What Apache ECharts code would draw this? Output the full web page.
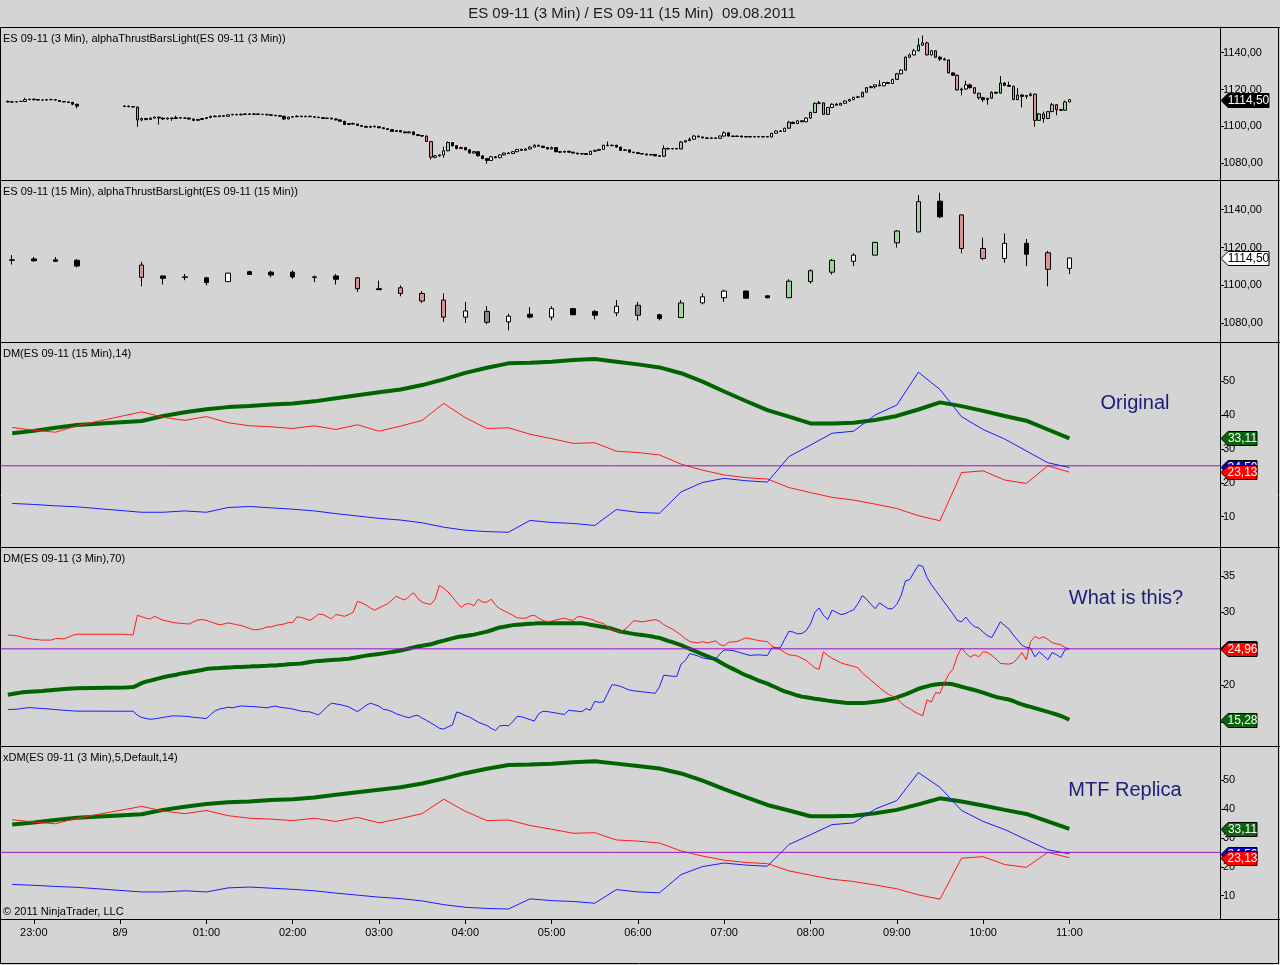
<!DOCTYPE html>
<html><head><meta charset="utf-8">
<script src="https://cdn.jsdelivr.net/npm/echarts@6/dist/echarts.min.js"></script>
<style>html,body{margin:0;padding:0;background:#d4d4d4}#c{width:1280px;height:965px}</style>
</head><body><div id="c"></div><script>
// ---------------- DATA ----------------
const chartTitle = 'ES 09-11 (3 Min) / ES 09-11 (15 Min)  09.08.2011';
const panelLabels = [
  'ES 09-11 (3 Min), alphaThrustBarsLight(ES 09-11 (3 Min))',
  'ES 09-11 (15 Min), alphaThrustBarsLight(ES 09-11 (15 Min))',
  'DM(ES 09-11 (15 Min),14)',
  'DM(ES 09-11 (3 Min),70)',
  'xDM(ES 09-11 (3 Min),5,Default,14)'
];
const panelNotes = ['Original', 'What is this?', 'MTF Replica'];
const copyrightText = '© 2011 NinjaTrader, LLC';
const timeTickTimes  = ['23:00','00:00','01:00','02:00','03:00','04:00','05:00','06:00','07:00','08:00','09:00','10:00','11:00'];
const timeTickLabels = ['23:00','8/9','01:00','02:00','03:00','04:00','05:00','06:00','07:00','08:00','09:00','10:00','11:00'];
const priceTicks = [1080, 1100, 1120, 1140];
const dmTicks = [10, 20, 30, 40, 50];
const dm70Ticks = [15, 20, 25, 30, 35];
const dm70TickLabels = [20, 30, 35];
const dmLevel = 25;

// bar sessions: [first bar time, number of bars]
const bars3Sessions = [['22:42', 17], ['00:03', 220]];
const bars15Sessions = [['22:45', 4], ['00:15', 44]];

// 3-minute bars [open, close, low, high]
const es3Ohlc = [
[1113.5,1113.25,1113,1114],[1113.25,1113.25,1112.75,1113.75],[1113.25,1113.5,1113,1113.75],[1113.5,1113.5,1113.25,1114],[1113.5,1114.5,1113.25,1115.5],
[1114.5,1114.75,1114.25,1115],[1114.75,1114.5,1114,1115],[1114.5,1114.25,1114,1114.75],[1114.25,1114.25,1114,1114.75],[1114.25,1114.5,1114,1114.75],
[1114.5,1114.5,1114.25,1115],[1114.5,1114.25,1114,1114.75],[1114,1113.5,1113.25,1114],[1113.5,1113.25,1113,1113.75],[1113.25,1113,1112.75,1113.5],
[1113,1112,1111.5,1113.25],[1112,1111,1109.75,1112.25],
[1110.75,1111,1110.5,1111.5],[1111,1110.75,1110.25,1111.25],[1110.75,1110.5,1110.25,1111],[1110.5,1103.5,1099.75,1110.75],[1103.5,1104.25,1102.75,1104.75],
[1104.25,1103.75,1103.25,1104.5],[1103.75,1104.5,1103.5,1104.75],[1104.5,1105,1104.25,1105.25],[1105,1104.5,1101,1105.25],[1104.5,1104,1103.5,1104.75],
[1104,1104.5,1103.75,1104.75],[1104.5,1104.25,1103,1104.75],[1104.25,1104.75,1104,1105.75],[1104.75,1104.5,1104.25,1105],[1104.5,1104.5,1104.25,1104.75],
[1104.5,1104,1103.5,1104.75],[1104,1103.25,1102.75,1104.25],[1103.25,1103.75,1103,1104],[1103.75,1104.25,1103.5,1104.5],[1104.25,1104.75,1104,1105],
[1104.75,1105.5,1104.5,1105.75],[1105.5,1105.25,1105,1106],[1105.25,1105.75,1105,1106],[1105.75,1105.5,1105.25,1106],[1105.5,1106.25,1105.25,1106.5],
[1106.25,1106.5,1106,1106.75],[1106.5,1106.25,1106,1106.75],[1106.25,1106.5,1106,1107],[1106.5,1106.75,1106.25,1107],[1106.75,1106.5,1106.25,1107],
[1106.5,1106.75,1106.25,1107.25],[1106.75,1106.5,1106.25,1107],[1106.5,1106.5,1106.25,1106.75],[1106.5,1106.25,1106,1106.75],[1106.25,1106,1105.75,1106.5],
[1106,1105.75,1105.5,1106.25],[1105.75,1105.5,1105.25,1106],[1105.5,1104,1103.5,1105.75],[1104,1105,1103.75,1105.25],[1105,1105.25,1104.75,1105.5],
[1105.25,1105.5,1105,1106],[1105.5,1105.25,1105,1105.75],[1105.25,1105.5,1105,1105.75],[1105.5,1105.25,1105,1105.75],[1105.25,1105,1104.75,1105.5],
[1105,1104.75,1104.5,1105.25],[1104.75,1104.25,1104,1105],[1104.25,1104.5,1104,1104.75],[1104.5,1104,1103.75,1104.75],[1104,1103.5,1103.25,1104.25],
[1103.5,1102.75,1102.5,1103.75],[1102.75,1101,1100.75,1103],[1101,1101.5,1100.75,1101.75],[1101.5,1101.25,1101,1102],[1101.25,1100.5,1100.25,1101.5],
[1100.5,1100,1099.75,1100.75],[1100,1099.5,1099.25,1100.25],[1099.5,1100,1099.25,1100.25],[1100,1099.75,1099.5,1100.5],[1099.75,1099.25,1099,1100],
[1099.25,1098.75,1098.5,1099.5],[1098.75,1098.25,1098,1099],[1098.25,1097.25,1097,1098.5],[1097.25,1097.75,1097,1098],[1097.75,1097,1096.75,1098],
[1097,1096.5,1096.25,1097.25],[1096.5,1097,1096.25,1097.25],[1097,1095.5,1095.25,1097.25],[1095.5,1095,1094.75,1095.75],[1095,1094.75,1094.25,1095.25],
[1094.75,1091.75,1091.5,1095],[1091.75,1083.25,1082,1092],[1083.25,1084,1082.75,1084.5],[1084,1084.5,1083.5,1084.75],[1084.5,1086.75,1083,1089],
[1086.75,1091.25,1086.5,1091.75],[1091.25,1089.5,1089,1091.5],[1089.5,1088,1087.5,1089.75],[1088,1088.5,1087.75,1089],[1088.5,1087.25,1087,1088.75],
[1087.25,1085.5,1085.25,1087.5],[1085.5,1086.25,1085.25,1086.5],[1086.25,1084,1083.75,1086.5],[1084,1082.5,1082.25,1084.25],[1082.5,1081.5,1079.75,1082.75],
[1081.5,1083.5,1081.25,1084],[1083.5,1083,1082.75,1083.75],[1083,1084.5,1082.75,1084.75],[1084.5,1085.5,1084.25,1085.75],[1085.5,1085.25,1085,1086],
[1085.25,1086.25,1085,1086.5],[1086.25,1087.5,1086,1087.75],[1087.5,1087,1086.75,1088],[1087,1087.75,1086.75,1088.25],[1087.75,1088.75,1087.5,1089.25],
[1088.75,1089.75,1088.5,1090.25],[1089.75,1089.25,1089,1090],[1089.25,1088.5,1088.25,1089.5],[1088.5,1087.75,1087.5,1088.75],[1087.75,1088.5,1087.5,1089],
[1088.5,1086.25,1086,1088.75],[1086.25,1086,1085.5,1086.5],[1086,1086.5,1085.75,1086.75],[1086.5,1086,1085.75,1086.75],[1086,1085.5,1085.25,1086.25],
[1085.5,1085,1084.75,1085.75],[1085,1085.25,1084.75,1085.5],[1085.25,1084.75,1084.5,1085.5],[1084.75,1086.5,1084.5,1086.75],[1086.5,1087,1086.25,1087.25],
[1087,1087.5,1086.75,1087.75],[1087.5,1089.75,1087.25,1090],[1089.75,1089.5,1089.25,1091.75],[1089.5,1089.75,1089.25,1090.25],[1089.75,1088.75,1088.5,1090],
[1088.75,1087,1086.75,1089],[1087,1087.25,1086.75,1087.5],[1087.25,1086,1085.75,1087.5],[1086,1085.75,1085.5,1086.25],[1085.75,1085.25,1085,1086],
[1085.25,1085,1084.75,1085.5],[1085,1084.5,1084.25,1085.25],[1084.5,1084.75,1084.25,1085],[1084.75,1084,1083.75,1085],[1084,1083.75,1083.5,1084.25],
[1083.75,1088,1083.5,1089.75],[1088,1087.75,1087.5,1088.5],[1087.75,1088,1087.5,1088.25],[1088,1087.75,1087.5,1088.25],[1087.75,1091.5,1087.5,1092],
[1091.5,1092.25,1091.25,1092.5],[1092.25,1093,1092,1094],[1093,1094.75,1092.75,1095.25],[1094.75,1094.25,1094,1095],[1094.25,1093.75,1093.5,1094.5],
[1093.75,1093.5,1093.25,1094],[1093.5,1093.75,1093.25,1094],[1093.75,1093.5,1093.25,1094],[1093.5,1094.75,1093.25,1095],[1094.75,1096.5,1094.5,1097.25],
[1096.5,1094.75,1094.5,1096.75],[1094.75,1094.5,1094.25,1095],[1094.5,1094.75,1094.25,1095],[1094.75,1094.25,1094,1095],[1094.25,1094.5,1094,1094.75],
[1094.5,1094.25,1094,1094.75],[1094.25,1094.5,1094,1094.75],[1094.5,1094.25,1094,1094.75],[1094.25,1094.5,1094,1094.75],[1094.5,1094.25,1094,1094.75],
[1094.25,1096.25,1094,1096.5],[1096.25,1097.5,1096,1097.75],[1097.5,1097.25,1097,1098],[1097.25,1099,1097,1099.25],[1099,1102.25,1098.75,1103],
[1102.25,1101.5,1101.25,1102.5],[1101.5,1103,1101.25,1103.25],[1103,1102.5,1102.25,1103.25],[1102.5,1104.5,1102.25,1105],[1104.5,1107.5,1104.25,1108],
[1107.5,1112.5,1107.25,1113],[1112.5,1112.75,1112,1113.75],[1112.75,1106.5,1106.25,1113],[1106.5,1110.25,1106.25,1110.5],[1110.25,1112,1110,1112.5],
[1112,1111.5,1111.25,1112.75],[1111.5,1112.5,1111.25,1112.75],[1112.5,1113.75,1112.25,1114],[1113.75,1114.5,1113.5,1115],[1114.5,1115.75,1114.25,1116],
[1115.75,1116,1115.5,1116.5],[1116,1118.5,1115.75,1118.75],[1118.5,1121,1118.25,1121.25],[1121,1121.5,1120.75,1122],[1121.5,1122.5,1120.5,1122.75],
[1122.5,1122,1121.75,1125],[1122,1123.75,1121.75,1124],[1123.75,1123.25,1123,1124.25],[1123.25,1125.5,1123,1125.75],[1125.5,1128.5,1125.25,1129],
[1128.5,1130.5,1128.25,1131],[1130.5,1137.5,1130.25,1138],[1137.5,1138.75,1137,1139.5],[1138.75,1141,1138.5,1142],[1141,1144,1140.75,1147.75],
[1144,1145.25,1143.75,1149.25],[1145.25,1138.75,1138.5,1146],[1138.75,1141,1138.5,1141.5],[1141,1137.5,1137,1141.25],[1137.5,1136.5,1135.5,1138],
[1136.5,1136,1135.75,1137.25],[1136,1129,1128.75,1136.25],[1129,1127.75,1127.5,1129.25],[1127.75,1119.75,1119.5,1128],[1119.75,1120.25,1116.75,1121],
[1120.25,1122.5,1119.75,1124.75],[1122.5,1121,1120.5,1123.25],[1121,1118,1117.75,1121.25],[1118,1115.5,1114.5,1118.25],[1115.5,1114.5,1113.25,1116],
[1114.5,1115.25,1111.75,1115.5],[1115.25,1118.5,1115,1119],[1118.5,1118,1117.5,1118.75],[1118,1123.5,1117.75,1127.25],[1123.5,1122.25,1121.75,1124],
[1122.25,1121.75,1121.5,1124.25],[1121.75,1114.5,1114.25,1122],[1114.5,1117,1114.25,1120.75],[1117,1116.25,1110.25,1117.5],[1116.25,1116.75,1115,1117],
[1116.75,1117.5,1116.25,1118.25],[1117.5,1103.25,1099.75,1117.75],[1103.25,1106.75,1103,1107.25],[1106.75,1104.25,1102,1108],[1104.25,1108,1104,1108.25],
[1108,1111.75,1107.75,1112.75],[1111.75,1109,1106,1112],[1109,1108.75,1108.5,1109.5],[1108.75,1113.25,1108.5,1114],[1113.25,1114.5,1113,1114.75]
];

// 15-minute bars [open, close, low, high]
const es15Ohlc = [
[1113.5,1113.25,1111,1116],[1114,1113,1112.5,1115],[1113.5,1112.75,1112.5,1115],[1113.25,1110.25,1109.5,1114],
[1110.75,1104.25,1099.5,1112.5],[1105,1103.75,1100.5,1105.25],[1104.25,1104.5,1102.75,1106],[1104,1101.5,1100,1104.5],
[1102,1106.5,1102,1106.75],[1107.25,1105.75,1105.5,1107.75],[1107,1105.5,1104.25,1107.75],[1107,1104.5,1103.5,1108],
[1104.5,1104.25,1101.75,1105.25],[1105,1103.25,1100.5,1106],[1104,1098.25,1096.5,1104.5],[1098.25,1097.75,1097.5,1102.5],
[1098.75,1095.75,1094.25,1100],[1095.75,1091.75,1090.75,1097],[1092.25,1083.25,1080.75,1095.75],[1083.25,1086.5,1080.25,1091.25],
[1086.25,1080.5,1079.5,1089],[1080.75,1083.75,1076.25,1085],[1084.75,1083.25,1082.5,1088.5],[1083.25,1087.75,1081.5,1089],
[1087.75,1084.5,1084.25,1088],[1086.25,1084.25,1082,1087],[1085.5,1089,1083.75,1092.25],[1089.5,1084.25,1081.5,1091.25],
[1084.5,1082.5,1081.5,1085],[1083,1090.75,1082.75,1092.25],[1090.75,1094,1090,1095.75],[1093.5,1097,1091.25,1097.75],
[1097,1093.25,1093,1097.25],[1094.5,1093.5,1093.25,1094.75],[1093.5,1102.25,1093.5,1103.25],[1102,1107.75,1101,1108.5],
[1107,1113.25,1105.75,1114],[1112.75,1116,1110.25,1117],[1116,1122.75,1116,1123],[1122.5,1128.75,1120,1129.25],
[1128.25,1144.25,1128,1147.75],[1144.5,1136.25,1135.5,1149],[1137.25,1119.5,1117,1137.5],[1119.5,1114.25,1113.25,1125.25],
[1114.25,1122.25,1112,1127.5],[1122.25,1116.5,1110.25,1124.5],[1117.25,1108.5,1099.5,1118.25],[1109,1114.5,1106,1114.75]
];
// alphaThrust state of each 15-minute bar: W up, K down, G up-thrust, P down-thrust, A neutral
const thrust15 = ['K','K','K','K','P','K','K','K','W','K','K','K','K','K','P','K','P','P','P','W','A','W','K','W','K','K','W','A','K','G','W','W','K','K','G','G','G','W','G','G','G','K','P','P','W','K','P','W'];

// DM(15 Min,14) – also shown by the xDM replica
const dm15Adx = [34.6,35.3,36.2,37.0,38.2,39.7,40.8,41.7,42.3,42.6,43.1,43.4,44.0,44.9,45.8,46.7,47.5,48.8,50.5,52.4,53.9,55.2,55.4,55.7,56.2,56.5,55.7,54.9,54.0,52.3,49.8,46.9,44.1,41.4,39.5,37.5,37.5,37.7,38.5,39.7,41.6,43.7,42.6,41.2,39.7,38.3,35.7,33.11];
const dm15DiPlus = [13.9,13.6,13.2,12.9,11.3,11.3,11.7,11.3,12.7,13.0,12.6,12.2,11.7,10.9,10.2,9.5,9.0,8.2,6.9,6.0,5.6,5.4,8.9,8.3,8.0,7.4,12.1,11.3,11.0,17.3,20.1,21.3,20.6,20.2,27.7,31.1,34.6,35.2,40.0,42.9,52.6,47.5,39.5,35.7,32.9,29.4,25.9,24.5];
const dm15DiMinus = [36.3,35.5,34.9,36.8,40.9,39.3,38.4,39.5,37.7,36.8,36.5,36.0,36.8,35.7,37.1,35.2,36.7,38.4,43.4,39.2,36.0,36.2,34.3,33.0,31.6,31.8,29.3,28.9,28.2,25.5,23.7,22.3,21.5,21.1,18.6,17.1,15.7,14.9,13.7,12.4,10.3,8.8,23.0,23.5,20.8,19.8,25.0,23.13];

// DM(3 Min,70)
const dm70Adx = [
18.7,18.8,18.9,19.0,19.08,19.12,19.16,19.2,19.23,19.28,19.33,19.38,19.43,19.48,19.53,19.57,19.6,
19.7,19.72,19.76,20.0,20.3,20.5,20.65,20.8,20.95,21.1,21.25,21.35,21.45,21.6,21.7,21.8,21.9,22.0,22.1,22.25,
22.3,22.35,22.38,22.42,22.45,22.47,22.5,22.52,22.55,22.57,22.6,22.62,22.65,22.67,22.7,22.72,22.77,22.82,22.88,22.93,
22.95,23.0,23.1,23.2,23.28,23.33,23.38,23.43,23.48,23.52,23.55,23.6,23.63,23.75,23.85,23.97,24.07,24.15,24.22,24.3,
24.38,24.48,24.57,24.67,24.77,24.9,25.05,25.2,25.32,25.42,25.52,25.62,25.8,25.98,26.12,26.28,26.43,26.58,26.68,26.77,
26.86,26.95,27.08,27.22,27.36,27.55,27.75,27.93,28.03,28.14,28.25,28.3,28.35,28.4,28.43,28.46,28.5,28.5,28.5,28.5,
28.5,28.5,28.5,28.5,28.5,28.5,28.5,28.42,28.3,28.2,28.1,28.0,27.9,27.75,27.55,27.36,27.27,27.15,27.05,26.97,
26.9,26.81,26.72,26.6,26.5,26.3,26.1,25.92,25.7,25.5,25.25,25.0,24.75,24.5,24.25,24.0,23.75,23.55,23.2,22.85,
22.55,22.25,21.95,21.65,21.38,21.15,20.9,20.65,20.45,20.23,19.95,19.7,19.42,19.18,19.0,18.8,18.6,18.45,18.35,18.25,
18.15,18.08,18.0,17.9,17.82,17.75,17.68,17.6,17.58,17.57,17.57,17.58,17.62,17.68,17.75,17.82,17.92,18.05,18.18,18.35,
18.55,18.75,19.0,19.25,19.5,19.7,19.85,20.0,20.1,20.18,20.22,20.2,20.13,19.98,19.8,19.65,19.5,19.35,19.18,19.0,
18.8,18.6,18.4,18.28,18.15,18.05,17.85,17.6,17.38,17.2,17.05,16.88,16.7,16.52,16.35,16.18,16.0,15.8,15.55,15.28
];
const dm70DiPlus = [
16.68,16.7,16.72,16.8,16.88,16.95,16.9,16.85,16.81,16.78,16.72,16.68,16.62,16.58,16.54,16.5,16.46,
16.45,16.45,16.45,15.9,15.6,15.45,15.35,15.4,15.5,15.6,15.7,15.8,15.8,15.78,15.76,15.7,15.62,15.56,15.5,15.45,
16.0,16.5,16.75,16.85,17.0,16.92,17.05,17.17,17.14,17.1,17.08,17.03,16.97,16.92,17.05,17.15,17.0,16.92,16.85,16.75,
16.6,16.45,16.4,16.35,16.15,15.95,16.5,17.1,17.55,17.45,17.35,17.2,17.05,16.7,16.4,16.8,17.25,17.55,17.35,17.15,
16.7,16.62,16.4,16.1,15.9,15.7,15.55,15.8,15.9,15.5,15.2,14.85,14.5,14.1,14.0,14.3,14.55,16.35,16.15,15.85,
15.65,15.3,14.95,14.7,14.5,14.1,13.8,14.45,14.5,14.45,15.0,15.75,15.7,15.5,15.3,15.1,16.1,16.45,16.4,16.3,
16.2,16.1,16.0,16.6,16.5,16.45,16.38,16.8,16.6,17.8,17.67,17.72,18.9,20.1,20.0,19.86,19.6,19.35,19.25,19.18,
19.1,19.04,18.98,18.9,19.8,21.4,21.3,21.25,21.22,22.9,23.4,24.35,24.2,24.0,23.75,23.65,23.55,23.6,24.3,24.85,
24.8,24.77,24.6,24.42,24.25,24.1,24.15,24.18,24.13,24.09,25.1,25.14,25.14,26.3,27.4,27.3,27.05,27.1,27.5,28.4,
30.0,30.6,29.6,29.0,30.3,30.0,29.7,29.8,30.1,30.35,31.2,32.3,31.8,31.1,30.5,31.3,30.9,30.5,30.5,31.1,
32.3,34.3,34.5,35.5,36.5,36.3,34.8,33.8,33.0,32.2,31.4,30.6,29.8,28.9,28.7,29.35,28.6,28.05,27.85,27.3,
26.8,26.55,27.6,28.7,28.2,27.7,26.9,26.2,25.5,25.2,25.1,23.9,24.6,24.1,23.5,24.5,24.2,23.8,24.9,25.05
];
const dm70DiMinus = [
26.9,26.85,26.8,26.65,26.5,26.4,26.3,26.25,26.2,26.2,26.2,26.4,26.4,26.35,26.6,26.85,27.0,
27.0,26.95,26.9,29.6,29.4,29.2,29.1,29.45,29.2,28.9,28.8,28.65,28.55,28.5,28.45,28.4,28.7,28.95,29.0,28.9,
28.7,28.5,28.3,28.4,28.55,28.45,28.3,28.2,28.0,27.8,27.6,27.65,27.75,28.0,28.0,28.2,28.3,28.4,28.6,28.6,
29.4,29.3,29.1,28.9,29.3,29.75,29.7,29.4,29.1,29.7,29.6,29.45,29.7,30.0,31.5,31.3,31.0,30.6,30.3,30.6,
30.9,31.2,31.7,32.2,31.9,31.7,32.2,32.7,31.9,31.4,31.2,31.1,31.8,33.7,33.3,32.8,32.1,31.4,30.7,31.1,
31.2,30.9,31.8,31.4,31.4,31.8,31.0,30.5,30.2,29.9,29.6,29.25,29.2,29.2,29.5,29.6,29.2,28.9,28.7,28.8,
28.95,29.1,29.2,29.0,28.9,29.4,29.4,29.2,29.1,28.85,28.6,28.5,28.0,27.6,27.45,27.3,27.7,28.2,28.85,28.8,
28.7,28.8,28.9,29.0,28.8,28.3,28.0,27.7,27.3,26.9,26.4,26.0,25.9,25.8,26.0,25.8,25.95,26.1,25.6,25.4,
25.9,25.95,26.0,26.25,26.5,26.4,26.25,26.15,26.05,26.0,25.4,25.1,24.9,24.5,24.2,24.1,24.0,23.7,23.4,22.9,
22.4,22.2,24.6,24.1,23.7,23.4,23.1,22.9,22.75,22.6,22.4,21.7,21.2,20.7,20.2,19.7,19.2,18.8,18.5,18.2,
17.6,17.1,16.8,16.4,16.1,15.8,18.0,17.7,19.0,18.9,20.3,21.5,22.2,24.0,25.1,24.4,23.85,24.2,23.9,24.6,
24.5,24.1,23.6,23.0,22.95,22.9,23.1,23.7,24.5,23.5,26.0,26.7,26.4,26.65,26.3,25.85,25.7,25.55,25.2,24.96
];

// ---------------- HELPERS ----------------
function toMin(t) { const p = t.split(':').map(Number); return (p[0] >= 22 ? (p[0] - 22) * 60 : (p[0] + 2) * 60) + p[1]; }
function buildTimes(sessions, step) {
  const out = [];
  sessions.forEach(([start, n]) => { const s = toMin(start); for (let i = 0; i < n; i++) out.push(s + i * step); });
  return out;
}
const times3 = buildTimes(bars3Sessions, 3);
const times15 = buildTimes(bars15Sessions, 15);
const tickMins = timeTickTimes.map(toMin);
const fmtComma = (v, d) => v.toFixed(d).replace('.', ',');

const FILL = { W: '#ffffff', K: '#000000', G: '#9fd49f', P: '#d99494', A: '#8a8a8a' };
function candleItem(x, d, state) {
  const f = FILL[state];
  return { value: [x, d[0], d[1], d[2], d[3]], itemStyle: { color: f, color0: f, borderColor: '#000', borderColor0: '#000', borderColorDoji: '#000', borderWidth: 1 } };
}
function state3(d) { const b = d[1] - d[0]; return b >= 2.5 ? 'G' : b <= -2.5 ? 'P' : b > 0 ? 'W' : 'K'; }
const pair = (xs, vs) => vs.map((v, i) => [xs[i], v]);

// ---------------- LAYOUT ----------------
const FONT = '"Liberation Sans", Arial, sans-serif';
const grids = [
  { top: 27, height: 153 }, { top: 180, height: 162 }, { top: 342, height: 205 }, { top: 547, height: 199 }, { top: 746, height: 173 }
];
const yRanges = [[1070.9, 1153.9], [1070.1, 1155.7], [1.06, 61.5], [11.68, 38.96], [1.94, 61.8]];
const xMin = 37.2, xMax = 884.7;
const plotRight = 1220;

const option = {
  backgroundColor: '#d4d4d4',
  animation: false,
  grid: grids.map(g => ({ left: 1, width: plotRight - 1, top: g.top, height: g.height })),
  xAxis: grids.map((g, i) => ({
    gridIndex: i, type: 'value', min: xMin, max: xMax, show: i === 4,
    axisLine: { show: true, onZero: false, lineStyle: { color: '#000', width: 1 } },
    axisTick: { show: true, customValues: tickMins, length: 5, lineStyle: { color: '#000' } },
    axisLabel: { customValues: tickMins, formatter: v => timeTickLabels[tickMins.indexOf(v)] || '', color: '#000', fontSize: 11, fontFamily: FONT, margin: 8 },
    splitLine: { show: false }
  })),
  yAxis: yRanges.map((r, i) => {
    const isPrice = i < 2;
    const ticks = isPrice ? priceTicks : (i === 3 ? dm70Ticks : dmTicks);
    const labels = isPrice ? priceTicks : (i === 3 ? dm70TickLabels : dmTicks);
    return {
      gridIndex: i, type: 'value', position: 'right', min: r[0], max: r[1],
      axisLine: { show: true, onZero: false, lineStyle: { color: '#000', width: 1 } },
      axisTick: { show: true, customValues: ticks, length: 4, lineStyle: { color: '#000' } },
      axisLabel: { customValues: labels, formatter: v => isPrice ? fmtComma(v, 2) : String(v), color: '#000', fontSize: 11, fontFamily: FONT, margin: 3 },
      splitLine: { show: false }
    };
  }),
  series: []
};

// panel 1: 3-minute candles
option.series.push({
  type: 'candlestick', xAxisIndex: 0, yAxisIndex: 0, barWidth: 3, encode: { x: 0, y: [1, 2, 3, 4] },
  data: es3Ohlc.map((d, i) => candleItem(times3[i], d, state3(d)))
});
// panel 2: 15-minute candles
option.series.push({
  type: 'candlestick', xAxisIndex: 1, yAxisIndex: 1, barWidth: 5, encode: { x: 0, y: [1, 2, 3, 4] },
  data: es15Ohlc.map((d, i) => candleItem(times15[i], d, thrust15[i]))
});
// DM panels
function dmSeries(idx, xs, adx, plus, minus) {
  const base = { type: 'line', xAxisIndex: idx, yAxisIndex: idx, showSymbol: false, symbol: 'none', silent: true };
  option.series.push(Object.assign({}, base, { data: pair(xs, adx), lineStyle: { color: '#006400', width: 4 }, z: 2 }));
  option.series.push(Object.assign({}, base, { data: pair(xs, minus), lineStyle: { color: '#ff1a1a', width: 1 }, z: 3 }));
  option.series.push(Object.assign({}, base, { data: pair(xs, plus), lineStyle: { color: '#1a1aff', width: 1 }, z: 3 }));
  // reference level line across the panel
  option.series.push(Object.assign({}, base, { data: [[xMin, dmLevel], [xMax, dmLevel]], lineStyle: { color: '#9a10cc', width: 1 }, z: 4 }));
}
dmSeries(2, times15, dm15Adx, dm15DiPlus, dm15DiMinus);
dmSeries(3, times3, dm70Adx, dm70DiPlus, dm70DiMinus);
dmSeries(4, times15, dm15Adx, dm15DiPlus, dm15DiMinus);

const chart = echarts.init(document.getElementById('c'), null, { renderer: 'canvas' });
chart.setOption(option);

// ---------------- OVERLAYS (texts, frame, price markers) ----------------
const last = a => a[a.length - 1];
const markerDefs = [
  { axis: 0, v: last(es3Ohlc)[1], w: 48, fill: '#000', stroke: '#000', text: '#fff' },
  { axis: 1, v: last(es15Ohlc)[1], w: 48, fill: '#fff', stroke: '#000', text: '#000' },
  { axis: 2, v: last(dm15Adx), w: 36, fill: '#0b640b', stroke: '#000', text: '#fff' },
  { axis: 2, v: last(dm15DiPlus), w: 36, fill: '#0000c8', stroke: '#000', text: '#fff' },
  { axis: 2, v: last(dm15DiMinus), w: 36, fill: '#ff0000', stroke: '#000', text: '#fff' },
  { axis: 3, v: last(dm70Adx), w: 36, fill: '#0b640b', stroke: '#000', text: '#fff' },
  { axis: 3, v: last(dm70DiPlus), w: 36, fill: '#0000c8', stroke: '#000', text: '#fff' },
  { axis: 3, v: last(dm70DiMinus), w: 36, fill: '#ff0000', stroke: '#000', text: '#fff' },
  { axis: 4, v: last(dm15Adx), w: 36, fill: '#0b640b', stroke: '#000', text: '#fff' },
  { axis: 4, v: last(dm15DiPlus), w: 36, fill: '#0000c8', stroke: '#000', text: '#fff' },
  { axis: 4, v: last(dm15DiMinus), w: 36, fill: '#ff0000', stroke: '#000', text: '#fff' }
];
const g = [];
const txt = (x, y, text, font, fill, align) => ({ type: 'text', x, y, z: 60, silent: true,
  style: { text, font, fill, align, verticalAlign: 'middle', textAlign: align, textVerticalAlign: 'middle' } });
// frame and panel separators
g.push({ type: 'rect', shape: { x: 0.5, y: 27.5, width: 1278, height: 936 }, style: { fill: 'none', stroke: '#000', lineWidth: 1 }, z: 50, silent: true });
grids.forEach(gr => g.push({ type: 'line', shape: { x1: 0, y1: gr.top + 0.5, x2: 1280, y2: gr.top + 0.5 }, style: { stroke: '#000', lineWidth: 1 }, z: 50, silent: true }));
g.push({ type: 'line', shape: { x1: 0, y1: 919.5, x2: 1280, y2: 919.5 }, style: { stroke: '#000', lineWidth: 1 }, z: 50, silent: true });
// title, panel labels, copyright
g.push(txt(632, 14, chartTitle, '15px ' + FONT, '#1a1a1a', 'center'));
grids.forEach((gr, i) => g.push(txt(3, gr.top + 12, panelLabels[i], '11px ' + FONT, '#000', 'left')));
g.push(txt(3, 912, copyrightText, '11px ' + FONT, '#000', 'left'));
// notes
[[1135, 403], [1126, 598], [1125, 790]].forEach(([xx, yy], k) => g.push(txt(xx, yy, panelNotes[k], '20px ' + FONT, '#1c1c78', 'center')));
// price markers on the right axis (later ones drawn on top)
markerDefs.forEach((m, k) => {
  const py = Math.round(chart.convertToPixel({ yAxisIndex: m.axis }, m.v)) + 0.5;
  const x0 = plotRight + 1, h = 7;
  g.push({ type: 'polygon', shape: { points: [[x0, py], [x0 + 7, py - h], [x0 + m.w, py - h], [x0 + m.w, py + h], [x0 + 7, py + h]] },
    style: { fill: m.fill, stroke: m.stroke, lineWidth: 1 }, z: 70 + 2 * k, silent: true });
  const t = txt(x0 + 7 + (m.w - 7) / 2, py, fmtComma(m.v, 2), '12px ' + FONT, m.text, 'center');
  t.z = 71 + 2 * k;
  g.push(t);
});
chart.setOption({ graphic: { elements: g } });
</script></body></html>
